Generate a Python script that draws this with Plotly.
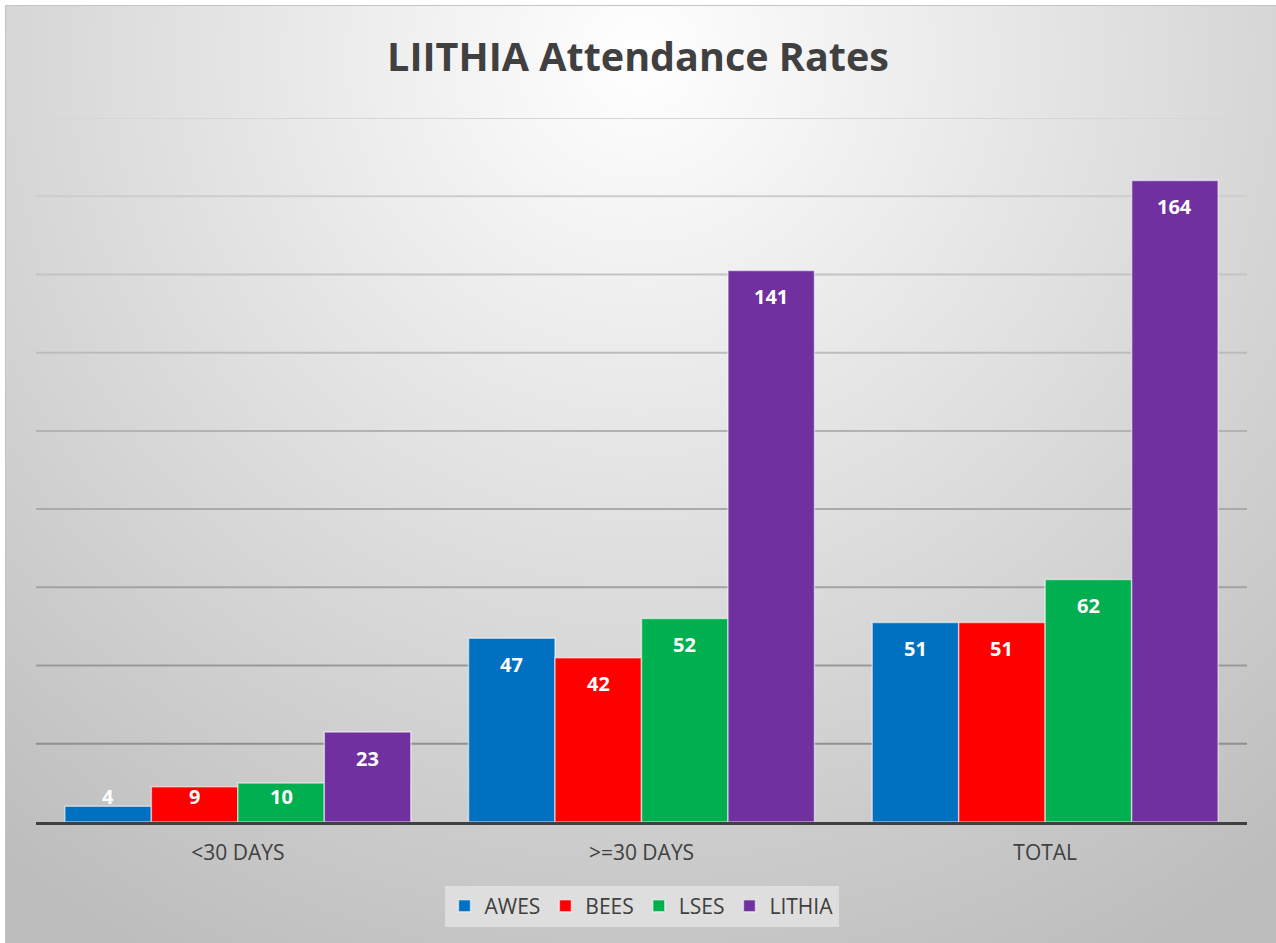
import plotly.graph_objects as go
import urllib.parse

# ---- data ----
categories = ["<30 DAYS", ">=30 DAYS", "TOTAL"]
series_names = ["AWES", "BEES", "LSES", "LITHIA"]
awes = [4, 47, 51]
bees = [9, 42, 51]
lses = [10, 52, 62]
lithia = [23, 141, 164]
series_values = [awes, bees, lses, lithia]
colors = ["#0070C0", "#FF0000", "#00B050", "#7030A0"]
grid_values = [20, 40, 60, 80, 100, 120, 140, 160, 180]

W, H = 1276, 943
ML, MR, MT, MB = 36, 29, 118, 121
PW, PH = W - ML - MR, H - MT - MB
Y_MAX = 180
FONT = "Open Sans"

fig = go.Figure()
for name, vals, col in zip(series_names, series_values, colors):
    fig.add_trace(go.Bar(
        name=name, x=categories, y=vals,
        marker=dict(color=col, line=dict(color="rgba(255,255,255,0.55)", width=1.5)),
        hoverinfo="x+y+name",
    ))

# background gradient as SVG
svg = (
    f'<svg xmlns="http://www.w3.org/2000/svg" width="{W}" height="{H}" viewBox="0 0 {W} {H}">'
    '<defs><radialGradient id="g" gradientUnits="userSpaceOnUse" cx="640" cy="55" r="1020">'
    '<stop offset="0" stop-color="#ffffff"/><stop offset="1" stop-color="#bdbdbd"/>'
    '</radialGradient></defs>'
    f'<rect x="0" y="0" width="{W}" height="{H}" fill="#ffffff"/>'
    f'<rect x="5.5" y="5.5" width="{W+10}" height="{H+10}" fill="url(#g)" stroke="#c4c4c4" stroke-width="1"/>'
    '</svg>'
)
src = "data:image/svg+xml;charset=utf-8," + urllib.parse.quote(svg)
fig.add_layout_image(dict(
    source=src, xref="paper", yref="paper",
    x=-ML / PW, y=1 + MT / PH, sizex=W / PW, sizey=H / PH,
    xanchor="left", yanchor="top", sizing="stretch", layer="below",
))

# gridlines with a subtle vertical colour gradient
def lerp(c1, c2, t):
    return "#" + "".join(f"{round(a + (b - a) * t):02x}" for a, b in zip(c1, c2))

for k, v in enumerate(grid_values):
    t = k / (len(grid_values) - 1)
    fig.add_shape(type="line", xref="paper", yref="y", x0=0, x1=1, y0=v, y1=v,
                  line=dict(color=lerp((0x90, 0x90, 0x90), (0xd6, 0xd6, 0xd6), t), width=2),
                  layer="below")

# data labels (inside end, pushed up for short bars)
bar_px = 86.5
for i, vals in enumerate(series_values):
    for cat, v in zip(categories, vals):
        h_px = v * PH / Y_MAX
        fig.add_annotation(
            x=cat, y=v, xref="x", yref="y", text=f"<b>{v}</b>", showarrow=False,
            xshift=(i - 1.5) * bar_px, yshift=max(-26, 26 - h_px),
            font=dict(family=FONT, size=20, color="#ffffff"),
        )

fig.update_layout(
    width=W, height=H,
    margin=dict(l=ML, r=MR, t=MT, b=MB),
    paper_bgcolor="#ffffff", plot_bgcolor="rgba(0,0,0,0)",
    barmode="group", bargap=0.143, bargroupgap=0,
    title=dict(text="<b>LIITHIA Attendance Rates</b>", x=0.5, xanchor="center",
               xref="container", y=1 - 57 / H, yanchor="middle", yref="container",
               font=dict(family=FONT, size=39.5, color="#404040")),
    xaxis=dict(showline=True, linecolor="#404040", linewidth=3, ticks="",
               tickfont=dict(family=FONT, size=21, color="#404040"),
               ticklabelstandoff=10,
               showgrid=False, zeroline=False, fixedrange=True),
    yaxis=dict(range=[0, Y_MAX], showticklabels=False, showgrid=False,
               zeroline=False, ticks="", fixedrange=True),
    legend=dict(orientation="h", x=0.5, xanchor="center", xref="paper",
                y=(822 - 906) / PH, yanchor="middle",
                bgcolor="#dedede", font=dict(family=FONT, size=21, color="#404040"),
                itemwidth=30, traceorder="normal"),
    showlegend=True,
)

fig.write_html("out.html", config={"displayModeBar": False},
               post_script="document.body.style.margin='0';document.body.style.padding='0';")
